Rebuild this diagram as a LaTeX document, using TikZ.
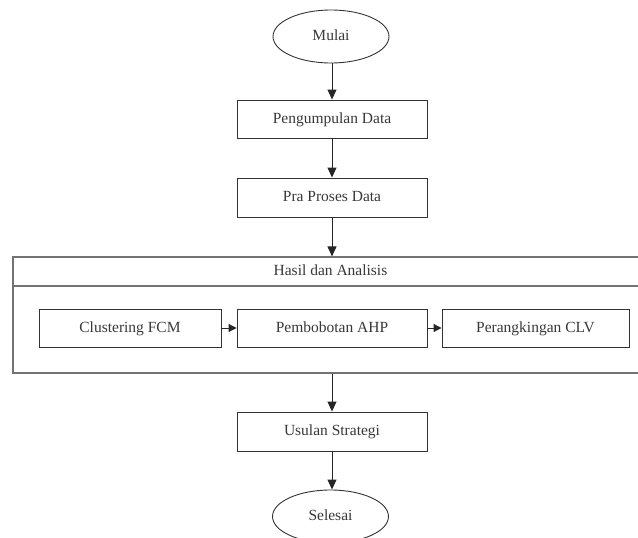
\documentclass[tikz,border=0pt]{standalone}
\usepackage{fontspec}
\setmainfont{Liberation Serif}
\usetikzlibrary{arrows.meta,shapes.geometric}
\begin{document}
\begin{tikzpicture}[x=1pt,y=-1pt,
  every node/.style={font=\fontsize{15.5}{18}\selectfont, text=black!78, inner sep=0pt, text height=9pt, text depth=1pt},
  proc/.style={draw=black!80, line width=0.9pt, minimum width=190pt, minimum height=38pt},
  term/.style={draw=black!80, line width=0.9pt, ellipse, minimum width=116pt, minimum height=53pt},
  frame/.style={draw=black!55, line width=1.2pt},
  arr/.style={-{Triangle[length=10pt,width=9pt]}, line width=1pt, draw=black!85},
  sarr/.style={-{Triangle[length=8pt,width=8pt]}, line width=1pt, draw=black!85}]
\useasboundingbox (0,0) rectangle (638,538);
\clip (0,0) rectangle (638,538);

\node[term] (mulai) at (331,36.5) {Mulai};
\node[proc] (p1) at (332,119) {Pengumpulan Data};
\node[proc, minimum height=39pt] (p2) at (332,197.5) {Pra Proses Data};

\node[frame, minimum width=635pt, minimum height=116pt] (hasil) at (330.5,315) {};
\node[frame, minimum width=635pt, minimum height=29pt, anchor=north] (hdr) at (hasil.north) {Hasil dan Analisis};

\node[proc, minimum width=182pt] (c1) at (130,328) {Clustering FCM};
\node[proc] (c2) at (332,328) {Pembobotan AHP};
\node[proc, minimum width=187pt] (c3) at (535.5,328) {Perangkingan CLV};

\node[proc, minimum height=39pt] (us) at (332,431.5) {Usulan Strategi};
\node[term] (sel) at (330.5,516.5) {Selesai};

\draw[arr] (mulai.south -| p1.north) -- (p1.north);
\draw[arr] (p1) -- (p2);
\draw[arr] (p2.south) -- (p2.south |- hasil.north);
\draw[arr] (us.north |- hasil.south) -- (us.north);
\draw[arr] (us.south) -- (us.south |- sel.north);
\draw[sarr] (c1) -- (c2);
\draw[sarr] (c2) -- (c3);
\end{tikzpicture}
\end{document}
